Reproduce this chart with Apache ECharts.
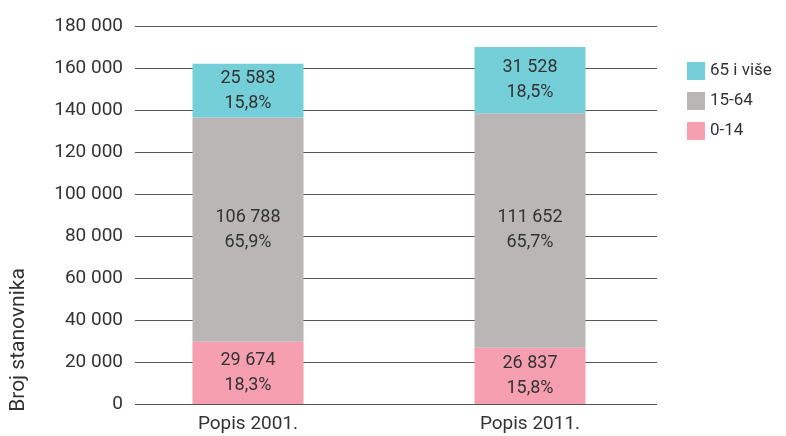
<!DOCTYPE html>
<html>
<head>
<meta charset="utf-8">
<script src="https://cdn.jsdelivr.net/npm/echarts@6/dist/echarts.min.js"></script>
<style>
  html, body { margin: 0; padding: 0; background: #fff; }
  #chart { width: 786px; height: 436px; }
</style>
</head>
<body>
<div id="chart"></div>
<script>
const categories = ['Popis 2001.', 'Popis 2011.']
const seriesNames = ['0-14', '15-64', '65 i više']
const young = [29674, 26837]
const working = [106788, 111652]
const old = [25583, 31528]
const youngPct = ['18,3%', '15,8%']
const workingPct = ['65,9%', '65,7%']
const oldPct = ['15,8%', '18,5%']
const yTicks = { min: 0, max: 180000, interval: 20000 }

const font = 'Roboto, "Noto Sans", sans-serif'
const textColor = '#333'
const fmt = v => String(v).replace(/\B(?=(\d{3})+(?!\d))/g, ' ')

const chart = window.echarts.init(document.getElementById('chart'))

const makeSeries = (name, values, pcts, color) => ({
  name,
  type: 'bar',
  stack: 'total',
  xAxisIndex: 1,
  yAxisIndex: 1,
  barWidth: 111,
  itemStyle: { color },
  data: values,
  label: {
    show: true,
    position: 'inside',
    color: textColor,
    fontFamily: font,
    fontSize: 18,
    lineHeight: 25,
    formatter: p => fmt(p.value) + '\n' + pcts[p.dataIndex]
  }
})

chart.setOption({
  animation: false,
  textStyle: { fontFamily: font },
  grid: [
    { left: 135, right: 129, top: 26, bottom: 32 },
    { left: 107, right: 115, top: 26, bottom: 32 }
  ],
  xAxis: [
    { type: 'category', gridIndex: 0, data: categories, show: false },
    {
      type: 'category', gridIndex: 1, data: categories,
      axisLine: { show: false }, axisTick: { show: false },
      axisLabel: { color: textColor, fontSize: 19, margin: 11, fontFamily: font }
    }
  ],
  yAxis: [
    {
      type: 'value', gridIndex: 0, ...yTicks,
      axisLine: { show: false }, axisTick: { show: false },
      axisLabel: { color: textColor, fontSize: 19, margin: 12, fontFamily: font, formatter: fmt },
      splitLine: { lineStyle: { color: '#555', width: 1 } }
    },
    { type: 'value', gridIndex: 1, ...yTicks, show: false, splitLine: { show: false } }
  ],
  legend: {
    orient: 'vertical',
    left: 682,
    top: 57,
    itemWidth: 18,
    itemHeight: 18,
    itemGap: 12,
    icon: 'rect',
    data: ['65 i više', '15-64', '0-14'],
    textStyle: { color: textColor, fontSize: 17, fontFamily: font }
  },
  graphic: [{
    type: 'text',
    x: 19, y: 340,
    rotation: Math.PI / 2,
    style: {
      text: 'Broj stanovnika',
      fill: textColor,
      font: '21px ' + font,
      align: 'center',
      verticalAlign: 'middle'
    }
  }],
  series: [
    makeSeries(seriesNames[0], young, youngPct, '#F59FB1'),
    makeSeries(seriesNames[1], working, workingPct, '#BAB6B6'),
    makeSeries(seriesNames[2], old, oldPct, '#75CFD9')
  ]
})
</script>
</body>
</html>
